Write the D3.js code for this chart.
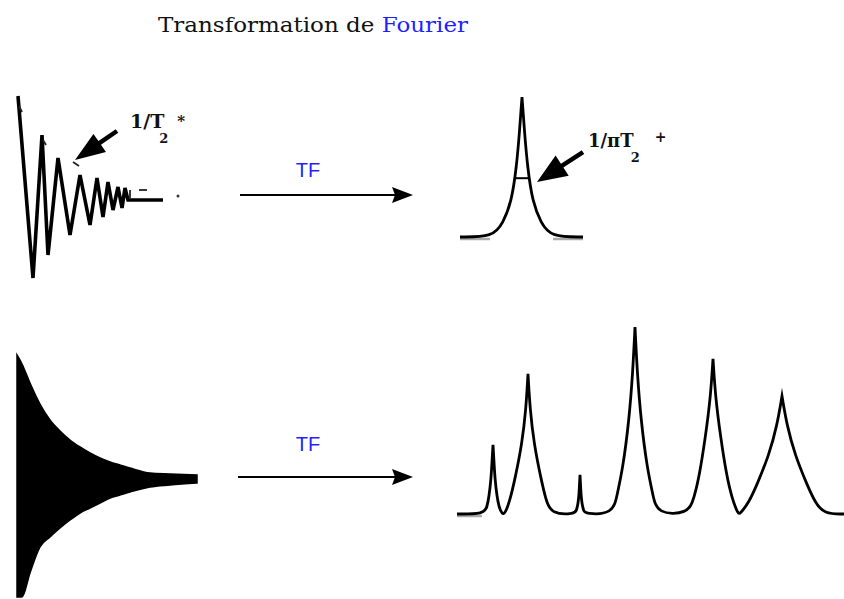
<!DOCTYPE html>
<html>
<head>
<meta charset="utf-8">
<script src="https://cdn.jsdelivr.net/npm/d3@7"></script>
<style>
  body { margin: 0; background: #fff; }
  svg { display: block; }
</style>
</head>
<body>
<svg class="chart"></svg>
<script>

// FID with one line: turning points of the zigzag (time, amplitude)
var fidTime = [1, 16, 25, 31, 41, 53, 63, 73, 80, 86, 91, 96, 101, 105, 108, 111, 146];
var fidAmp  = [99, -83, 60, -60, 37, -40, 20, -30, 17, -22, 13, -15, 8, -13, 7, -5, -5];

// FID with many lines: only the envelope can be read
var fid2Time  = [0, 5, 13, 23, 33, 43, 53, 63, 73, 83, 93, 103, 113, 133, 153, 180];
var fid2Upper = [124, 115, 96, 75, 59, 48, 39, 32, 26, 21, 17, 14, 11, 6, 5, 4];
var fid2Lower = [-118, -118, -94, -68, -58, -49, -41, -34, -29, -24, -19, -16, -13, -8, -6, -4];

// peaks: half width read at these parts of the peak height
var levels = [0.75, 0.5, 0.25, 0.1, 0];

// spectrum of the first FID
var spec1Freq = [62];
var spec1Height = [100];
var spec1HalfWidths = [[2.5, 5.5, 10.5, 19, 29]];
var spec1HalfLevel = 0.42;

// spectrum of the second FID
var spec2Freq   = [36, 71, 123, 178, 256, 325];
var spec2Height = [37, 75, 21, 100, 83, 63];
var spec2HalfWidths = [
    [1, 2, 4, 6, 9],
    [2, 6, 13, 18, 23],
    [0.5, 1, 2, 3.5, 5],
    [2.3, 6, 12, 18, 22],
    [2.5, 7.5, 13.5, 19, 25],
    [5, 13, 25, 33, 42]
];

var titleParts = ["Transformation de ", "Fourier"];
var arrowLabel = "TF";

var width = 844, height = 599;
var blue = "#1f1fff";

var svg = d3.select(".chart")
    .attr("width", width)
    .attr("height", height);

svg.append("rect").attr("width", width).attr("height", height).attr("fill", "#fff");

// title
var title = svg.append("text")
    .attr("x", 158)
    .attr("y", 32)
    .attr("font-family", "DejaVu Serif")
    .attr("font-size", 21)
    .attr("textLength", 310)
    .attr("lengthAdjust", "spacingAndGlyphs");
title.append("tspan").attr("fill", "#111").text(titleParts[0]);
title.append("tspan").attr("fill", blue).text(titleParts[1]);

// scales for each panel
var fidX = d3.scaleLinear().domain([0, 146]).range([17, 163]);
var fidY = d3.scaleLinear().domain([-100, 100]).range([295, 95]);

var fid2X = d3.scaleLinear().domain([0, 180]).range([17, 197]);
var fid2Y = d3.scaleLinear().domain([-125, 125]).range([604, 354]);

var spec1X = d3.scaleLinear().domain([0, 123]).range([460, 583]);
var spec1Y = d3.scaleLinear().domain([0, 100]).range([237, 97]);

var spec2X = d3.scaleLinear().domain([0, 387]).range([457, 844]);
var spec2Y = d3.scaleLinear().domain([0, 100]).range([514, 327]);

// ---- first FID ----
var fidLine = d3.line()
    .x(function(d) { return fidX(d[0]); })
    .y(function(d) { return fidY(d[1]); });

svg.append("path")
    .attr("d", fidLine(d3.zip(fidTime, fidAmp)))
    .attr("fill", "none")
    .attr("stroke", "#000")
    .attr("stroke-width", 3.6)
    .attr("stroke-linejoin", "miter")
    .attr("stroke-miterlimit", 3);

// small scan marks along the trace
var fidMarks = [
    [[2, 89], [5, 83]],
    [[26, 55], [29, 50]],
    [[56, 33], [62, 29]],
    [[113, 5], [113, -3]],
    [[122, 5], [130, 5]]
];
fidMarks.forEach(function(m) {
    svg.append("path")
        .attr("d", fidLine(m))
        .attr("stroke", "#222")
        .attr("stroke-width", 1.8);
});
svg.append("circle")
    .attr("cx", fidX(161)).attr("cy", fidY(-1))
    .attr("r", 1.5).attr("fill", "#333");

// ---- second FID, filled envelope ----
var fid2Area = d3.area()
    .x(function(d) { return fid2X(d[0]); })
    .y0(function(d) { return fid2Y(d[2]); })
    .y1(function(d) { return fid2Y(d[1]); })
    .curve(d3.curveMonotoneX);

svg.append("path")
    .attr("d", fid2Area(d3.zip(fid2Time, fid2Upper, fid2Lower)))
    .attr("fill", "#000")
    .attr("stroke", "#000")
    .attr("stroke-width", 1.5);

// ---- spectra ----
// one segment from each apex to the next, so every apex stays a sharp cusp
function spectrumSegments(freqs, heights, halfWidths, fmin, fmax) {
    var segs = [], cur = [[fmin, 0]];
    freqs.forEach(function(f, i) {
        var h = heights[i], hw = halfWidths[i];
        for (var k = levels.length - 1; k >= 0; k--) cur.push([f - hw[k], levels[k] * h]);
        cur.push([f, h]);
        segs.push(cur);
        cur = [[f, h]];
        for (var k = 0; k < levels.length; k++) cur.push([f + hw[k], levels[k] * h]);
    });
    cur.push([fmax, 0]);
    segs.push(cur);
    return segs;
}

function drawSpectrum(xs, ys, freqs, heights, halfWidths) {
    var dom = xs.domain();
    var line = d3.line()
        .x(function(d) { return xs(d[0]); })
        .y(function(d) { return ys(d[1]); })
        .curve(d3.curveBasis);
    var d = spectrumSegments(freqs, heights, halfWidths, dom[0], dom[1])
        .map(function(s, i) {
            var p = line(s);
            return i === 0 ? p : "L" + p.slice(1);
        }).join("");
    svg.append("path")
        .attr("d", d)
        .attr("fill", "none")
        .attr("stroke", "#000")
        .attr("stroke-width", 2.8)
        .attr("stroke-linejoin", "miter")
        .attr("stroke-miterlimit", 6);
}

// grey shadow under parts of the baselines
function greyBase(xs, ys, f0, f1) {
    svg.append("line")
        .attr("x1", xs(f0)).attr("x2", xs(f1))
        .attr("y1", ys(0) + 2).attr("y2", ys(0) + 2)
        .attr("stroke", "#aaa")
        .attr("stroke-width", 2.5);
}
greyBase(spec1X, spec1Y, 0, 30);
greyBase(spec1X, spec1Y, 93, 123);
greyBase(spec2X, spec2Y, 0, 25);

drawSpectrum(spec1X, spec1Y, spec1Freq, spec1Height, spec1HalfWidths);
drawSpectrum(spec2X, spec2Y, spec2Freq, spec2Height, spec2HalfWidths);

// width bar at mid height of the single peak
var halfW = d3.scaleLinear().domain(levels).range(spec1HalfWidths[0])(spec1HalfLevel);
svg.append("line")
    .attr("x1", spec1X(spec1Freq[0] - halfW))
    .attr("x2", spec1X(spec1Freq[0] + halfW))
    .attr("y1", spec1Y(spec1HalfLevel * spec1Height[0]))
    .attr("y2", spec1Y(spec1HalfLevel * spec1Height[0]))
    .attr("stroke", "#000")
    .attr("stroke-width", 2);

// ---- "TF" arrows between the panels ----
function tfArrow(x1, x2, y, labelY) {
    svg.append("line")
        .attr("x1", x1).attr("x2", x2 - 14)
        .attr("y1", y).attr("y2", y)
        .attr("stroke", "#000")
        .attr("stroke-width", 2);
    svg.append("path")
        .attr("d", "M" + x2 + "," + y + "L" + (x2 - 21) + "," + (y - 8) + "L" + (x2 - 18) + "," + y + "L" + (x2 - 21) + "," + (y + 8) + "Z")
        .attr("fill", "#000");
    svg.append("text")
        .attr("x", 308)
        .attr("y", labelY)
        .attr("text-anchor", "middle")
        .attr("font-family", "Liberation Sans, Arial, sans-serif")
        .attr("font-size", 20)
        .attr("fill", blue)
        .text(arrowLabel);
}
tfArrow(240, 413, 195, 177);
tfArrow(238, 413, 477, 451);

// ---- fat annotation arrows ----
function fatArrow(x1, y1, x2, y2, headLen, headW, shaftW) {
    var dx = x2 - x1, dy = y2 - y1, len = Math.sqrt(dx * dx + dy * dy);
    var ux = dx / len, uy = dy / len, nx = -uy, ny = ux;
    var bx = x2 - ux * headLen, by = y2 - uy * headLen;
    var p = [
        [x1 + nx * shaftW / 2, y1 + ny * shaftW / 2],
        [bx + nx * shaftW / 2, by + ny * shaftW / 2],
        [bx + nx * headW / 2, by + ny * headW / 2],
        [x2, y2],
        [bx - nx * headW / 2, by - ny * headW / 2],
        [bx - nx * shaftW / 2, by - ny * shaftW / 2],
        [x1 - nx * shaftW / 2, y1 - ny * shaftW / 2]
    ];
    svg.append("path").attr("d", "M" + p.join("L") + "Z").attr("fill", "#000");
}

fatArrow(fidX(100), fidY(64), fidX(58), fidY(35), 30, 22, 4.5);
fatArrow(spec1X(123), spec1Y(60.7), spec1X(77), spec1Y(39.3), 30, 24, 4.5);

// label with subscript and superscript as separate texts
function label(x, y, size, main, sub, sup, subDx, subDy, supDx, supDy, supSize) {
    var t = svg.append("text")
        .attr("x", x).attr("y", y)
        .attr("font-family", "DejaVu Serif")
        .attr("font-weight", "bold")
        .attr("font-size", size)
        .attr("fill", "#111")
        .text(main);
    var end = x + t.node().getComputedTextLength();
    svg.append("text")
        .attr("x", end + subDx).attr("y", y + subDy)
        .attr("font-family", "DejaVu Serif")
        .attr("font-weight", "bold")
        .attr("font-size", 13)
        .attr("fill", "#111")
        .text(sub);
    svg.append("text")
        .attr("x", end + supDx).attr("y", y + supDy)
        .attr("font-family", "DejaVu Serif")
        .attr("font-weight", "bold")
        .attr("font-size", supSize)
        .attr("fill", "#111")
        .text(sup);
}
label(fidX(113), fidY(67), 19, "1/T", "2", "*", -5, 15, 13, -2, 15);
label(spec1X(128), spec1Y(64.3), 18, "1/\u03c0T", "2", "+", -3, 15, 21, -5, 14);

</script>
</body>
</html>
